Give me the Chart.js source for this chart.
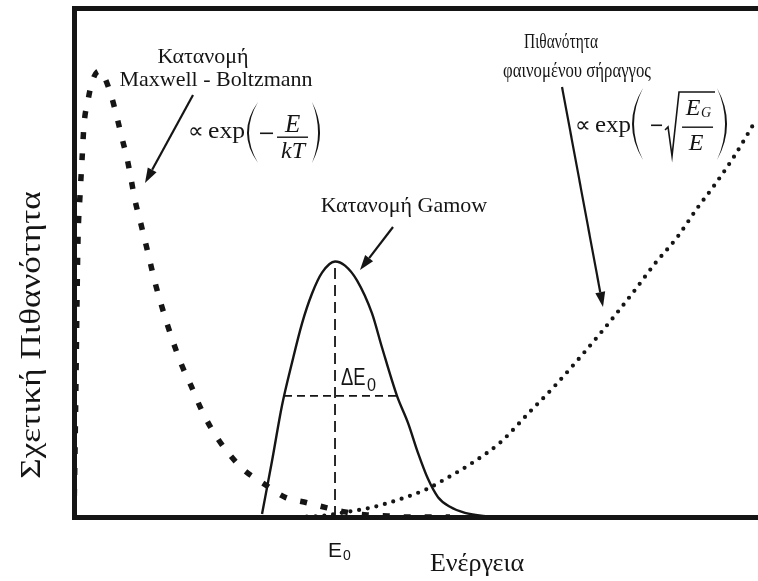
<!DOCTYPE html>
<html>
<head>
<meta charset="utf-8">
<script src="https://cdn.jsdelivr.net/npm/chart.js@4.4.1/dist/chart.umd.min.js"></script>
<style>
  html, body { margin: 0; padding: 0; background: #fff; }
</style>
</head>
<body>
<canvas id="chart" width="758" height="581"></canvas>
<script>
// Energy (arbitrary units, 0–100) and relative probability (0–100)
const maxwellE = [0, 0.15, 0.29, 0.44, 0.58, 0.88, 1.17, 1.46, 2.05, 2.63, 3.36, 3.95, 4.53, 5.41, 6.29, 7.02, 7.75, 8.33, 8.92, 9.65, 10.38, 11.11, 11.84, 12.72, 13.60, 14.62, 15.79, 17.11, 18.42, 20.03, 22.08, 24.71, 27.78, 30.85, 34.06, 36.99, 39.62, 42.84, 45.91, 48.98, 54.97];
const maxwellP = [0, 13.0, 26.8, 42.5, 54.3, 63.2, 70.1, 77.0, 81.9, 85.4, 87.4, 87.6, 86.2, 82.9, 78.5, 74.4, 70.5, 66.5, 62.2, 58.3, 54.3, 50.2, 46.1, 41.9, 38.0, 33.9, 29.7, 25.8, 21.7, 17.5, 13.4, 9.4, 6.5, 3.9, 2.8, 1.8, 1.0, 0.4, 0.2, 0, 0];

const gamowE = [27.49, 28.95, 30.41, 31.87, 33.33, 34.80, 36.26, 38.16, 39.62, 41.37, 43.57, 45.03, 47.22, 48.83, 50.29, 51.75, 53.22, 54.97, 57.16, 59.80, 63.01];
const gamowP = [0.6, 11.0, 21.9, 30.3, 38.0, 43.9, 48.0, 50.2, 49.4, 46.5, 40.0, 33.3, 23.8, 18.5, 12.6, 7.5, 3.9, 2.0, 0.8, 0.2, 0];

const tunnelE = [32.75, 35.96, 39.91, 43.27, 47.66, 51.61, 53.80, 58.19, 62.28, 66.67, 70.32, 76.90, 81.73, 84.94, 88.16, 91.08, 93.42, 96.35, 99.71];
const tunnelP = [0, 0.2, 1.0, 1.8, 3.5, 5.5, 7.1, 10.6, 14.6, 20.7, 25.8, 36.0, 44.1, 49.8, 54.9, 60.6, 64.8, 70.5, 78.0];

// Gamow peak (E0) and the width ΔE0 marked across the peak
const E0 = 38.16;
const gamowPeak = 50.2;
const widthE = [30.7, 47.22];
const widthP = 23.8;

const ink = '#151515';
const serif = '"Liberation Serif", "Times New Roman", serif';
const sans = '"Liberation Sans", Arial, sans-serif';

const toPoints = (xs, ys) => xs.map((x, i) => ({ x, y: ys[i] }));

function drawArrow(ctx, x1, y1, x2, y2) {
  const ang = Math.atan2(y2 - y1, x2 - x1);
  const len = 15, half = 5;
  const bx = x2 - len * Math.cos(ang), by = y2 - len * Math.sin(ang);
  ctx.beginPath();
  ctx.moveTo(x1, y1);
  ctx.lineTo(bx, by);
  ctx.lineWidth = 2.2;
  ctx.strokeStyle = ink;
  ctx.stroke();
  ctx.beginPath();
  ctx.moveTo(x2, y2);
  ctx.lineTo(bx + half * Math.sin(ang), by - half * Math.cos(ang));
  ctx.lineTo(bx - half * Math.sin(ang), by + half * Math.cos(ang));
  ctx.closePath();
  ctx.fillStyle = ink;
  ctx.fill();
}

// tall bracket drawn as a crescent between left and right; dir = 1 for "(", -1 for ")"
function drawParen(ctx, left, right, top, bottom, dir) {
  const t = 2;
  const mid = (top + bottom) / 2;
  const w = right - left;
  const tip = dir > 0 ? right : left;
  const ctrl = tip - dir * 2 * w;
  ctx.beginPath();
  ctx.moveTo(tip, top);
  ctx.quadraticCurveTo(ctrl, mid, tip, bottom);
  ctx.quadraticCurveTo(ctrl + dir * 2 * t, mid, tip, top);
  ctx.fillStyle = ink;
  ctx.fill();
}

// text with an optional horizontal stretch factor sx
function text(ctx, str, x, y, font, align, sx) {
  sx = sx || 1;
  ctx.save();
  ctx.font = font;
  ctx.textAlign = align || 'left';
  ctx.textBaseline = 'alphabetic';
  ctx.fillStyle = ink;
  ctx.translate(x, y);
  ctx.scale(sx, 1);
  ctx.fillText(str, 0, 0);
  ctx.restore();
}

function textWidth(ctx, str, font) {
  ctx.font = font;
  return ctx.measureText(str).width;
}

// "∝ exp" fitted into the given span
function propExp(ctx, ax, ay, span) {
  const pf = '22px ' + serif, ef = '24px ' + serif;
  const pw = textWidth(ctx, '∝', pf);
  text(ctx, '∝', ax, ay, pf);
  const start = ax + pw + 4;
  const sx = (ax + span - start) / textWidth(ctx, 'exp', ef);
  text(ctx, 'exp', start, ay, ef, 'left', sx);
}

const annotations = {
  id: 'annotations',
  afterDraw(chart) {
    const { ctx, chartArea } = chart;
    const X = v => chart.scales.x.getPixelForValue(v);
    const Y = v => chart.scales.y.getPixelForValue(v);
    ctx.save();
    ctx.fillStyle = ink;

    // Maxwell - Boltzmann label, formula and arrow
    text(ctx, 'Κατανομή', X(18.86), Y(89.19), '22px ' + serif, 'center');
    text(ctx, 'Maxwell - Boltzmann', X(20.76), Y(84.68), '22px ' + serif, 'center');
    {
      const ax = X(16.67), ay = Y(74.46);
      propExp(ctx, ax, ay, 57);
      drawParen(ctx, ax + 59, ax + 70, ay - 36, ay + 25, 1);
      ctx.fillStyle = ink;
      ctx.fillRect(ax + 72, ay - 5.5, 13, 1.6);
      ctx.fillRect(ax + 89, ay - 1.5, 31, 1.4);
      text(ctx, 'E', ax + 104.5, ay - 6, 'italic 25px ' + serif, 'center');
      text(ctx, 'kT', ax + 105, ay + 20, 'italic 24px ' + serif, 'center');
      drawParen(ctx, ax + 124, ax + 132, ay - 36, ay + 25, -1);
    }
    drawArrow(ctx, X(17.40), Y(82.91), X(10.38), Y(65.62));

    // tunnelling probability label, formula and arrow
    text(ctx, 'Πιθανότητα', X(71.20), Y(92.14), '22px ' + serif, 'center', 0.7);
    text(ctx, 'φαινομένου σήραγγος', X(73.54), Y(86.44), '22px ' + serif, 'center', 0.76);
    {
      const ax = X(73.25), ay = Y(75.64);
      propExp(ctx, ax, ay, 56);
      drawParen(ctx, ax + 57, ax + 68, ay - 44, ay + 28, 1);
      ctx.fillStyle = ink;
      ctx.fillRect(ax + 76, ay - 7.5, 11, 1.6);
      ctx.beginPath();
      ctx.moveTo(ax + 90, ay - 2);
      ctx.lineTo(ax + 93, ay - 5);
      ctx.lineTo(ax + 97, ay + 24);
      ctx.lineTo(ax + 104, ay - 40);
      ctx.lineTo(ax + 140, ay - 40);
      ctx.lineWidth = 1.6;
      ctx.lineJoin = 'miter';
      ctx.strokeStyle = ink;
      ctx.stroke();
      ctx.fillRect(ax + 107, ay - 5.5, 31, 1.4);
      text(ctx, 'E', ax + 118, ay - 17, 'italic 24px ' + serif, 'center');
      text(ctx, 'G', ax + 131, ay - 15, 'italic 14px ' + serif, 'center');
      text(ctx, 'E', ax + 121, ay + 18, 'italic 24px ' + serif, 'center');
      drawParen(ctx, ax + 142, ax + 152, ay - 44, ay + 28, -1);
    }
    drawArrow(ctx, X(71.35), Y(84.48), X(77.34), Y(41.26));

    // Gamow peak label and arrow
    text(ctx, 'Κατανομή Gamow', X(48.25), Y(59.92), '22px ' + serif, 'center');
    drawArrow(ctx, X(46.64), Y(56.97), X(41.81), Y(48.53));

    // ΔE0 across the peak
    {
      const lx = X(39.04), ly = Y(25.93);
      text(ctx, 'ΔE', lx, ly, '23px ' + sans, 'left', 0.8);
      const w = textWidth(ctx, 'ΔE', '23px ' + sans) * 0.8;
      text(ctx, '0', lx + w + 1.5, ly + 6, '18px ' + sans, 'left', 0.9);
    }

    // axis labels
    {
      const ex = X(E0) - 7, ey = chartArea.bottom + 40;
      text(ctx, 'E', ex, ey, '21px ' + sans);
      const w = textWidth(ctx, 'E', '21px ' + sans);
      text(ctx, '0', ex + w + 1, ey + 3, '14px ' + sans);
    }
    text(ctx, 'Ενέργεια', X(58.92), chartArea.bottom + 54, '26px ' + serif, 'center');

    ctx.translate(40, Y(35.76));
    ctx.rotate(-Math.PI / 2);
    text(ctx, 'Σχετική Πιθανότητα', 0, 0, '30px ' + serif, 'center', 1.17);

    ctx.restore();
  }
};

const hiddenAxis = {
  grid: { display: false, drawTicks: false },
  ticks: { display: false },
  border: { display: true, width: 5, color: ink }
};

const chart = new Chart(document.getElementById('chart'), {
  type: 'line',
  data: {
    datasets: [
      {
        label: 'Maxwell - Boltzmann',
        data: toPoints(maxwellE, maxwellP),
        borderColor: ink,
        borderWidth: 5.5,
        borderDash: [7, 14],
        borderCapStyle: 'butt',
        cubicInterpolationMode: 'monotone',
        pointRadius: 0
      },
      {
        label: 'Σήραγγα',
        data: toPoints(tunnelE, tunnelP),
        borderColor: ink,
        borderWidth: 4.2,
        borderDash: [0, 8.8],
        borderCapStyle: 'round',
        cubicInterpolationMode: 'monotone',
        pointRadius: 0
      },
      {
        label: 'Gamow',
        data: toPoints(gamowE, gamowP),
        borderColor: ink,
        borderWidth: 2.4,
        cubicInterpolationMode: 'monotone',
        pointRadius: 0
      },
      {
        label: 'E0',
        data: [{ x: E0, y: 0 }, { x: E0, y: gamowPeak }],
        borderColor: ink,
        borderWidth: 1.8,
        borderDash: [11, 6],
        pointRadius: 0
      },
      {
        label: 'ΔE0',
        data: [{ x: widthE[0], y: widthP }, { x: widthE[1], y: widthP }],
        borderColor: ink,
        borderWidth: 1.8,
        borderDash: [8, 5],
        pointRadius: 0
      }
    ]
  },
  options: {
    responsive: false,
    animation: false,
    devicePixelRatio: 1,
    layout: { padding: { left: 74, top: 8, right: 0, bottom: 64 } },
    plugins: { legend: { display: false }, tooltip: { enabled: false } },
    scales: {
      x: Object.assign({ type: 'linear', min: 0, max: 100 }, hiddenAxis),
      xTop: Object.assign({ type: 'linear', position: 'top', min: 0, max: 100 }, hiddenAxis),
      y: Object.assign({ min: 0, max: 100 }, hiddenAxis)
    }
  },
  plugins: [annotations]
});
</script>
</body>
</html>
